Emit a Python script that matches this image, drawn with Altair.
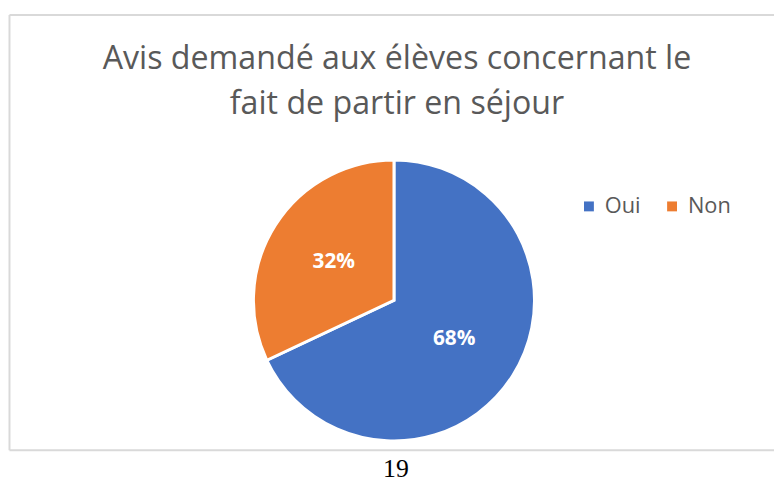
import altair as alt
import pandas as pd

categories = ["Oui", "Non"]
values = [68, 32]
labels = ["68%", "32%"]
colors = ["#4472C4", "#ED7D31"]
title_lines = ["Avis demandé aux élèves concernant le", "fait de partir en séjour"]
page_number = "19"

df = pd.DataFrame({"cat": categories, "val": values, "lab": labels, "ord": [0, 1]})
one = pd.DataFrame({"a": [0]})

W, H = 774, 475
cx, cy, R = 390, 293, 142
FONT = "Open Sans"

color = alt.Color(
    "cat:N",
    scale=alt.Scale(domain=categories, range=colors),
    legend=alt.Legend(
        orient="none", legendX=576, legendY=187, direction="horizontal",
        title=None, symbolType="square", symbolSize=100, symbolStrokeWidth=0,
        labelFont=FONT, labelFontSize=22, labelColor="#595959",
        columnPadding=20, labelOffset=5, padding=0,
    ),
)

pie = alt.Chart(df).mark_arc(
    outerRadius=R, stroke="white", strokeWidth=3, strokeJoin="miter"
).encode(
    theta=alt.Theta("val:Q", stack=True),
    color=color,
    order=alt.Order("ord:Q"),
    x=alt.value(cx), y=alt.value(cy),
)

text = alt.Chart(df).mark_text(
    radius=72, font=FONT, fontSize=21, fontWeight="bold", color="white"
).encode(
    theta=alt.Theta("val:Q", stack=True),
    order=alt.Order("ord:Q"),
    text="lab:N",
    x=alt.value(cx), y=alt.value(cy),
)

frame_col = "#d9d9d9"
top = alt.Chart(one).mark_rule(color=frame_col, strokeWidth=2).encode(
    x=alt.value(1.5), x2=alt.value(W), y=alt.value(4.5), y2=alt.value(4.5))
left = alt.Chart(one).mark_rule(color=frame_col, strokeWidth=2).encode(
    x=alt.value(1.5), x2=alt.value(1.5), y=alt.value(4.5), y2=alt.value(444.5))
bottom = alt.Chart(one).mark_rule(color=frame_col, strokeWidth=2).encode(
    x=alt.value(1.5), x2=alt.value(W), y=alt.value(444.5), y2=alt.value(444.5))

tdf = pd.DataFrame({"t": title_lines, "y": [59, 105]})
title = alt.Chart(tdf).mark_text(
    font=FONT, fontSize=32.5, color="#595959", baseline="alphabetic", align="center"
).encode(text="t:N", x=alt.value(393), y=alt.Y("y:Q", scale=None))

pn = alt.Chart(pd.DataFrame({"t": [page_number]})).mark_text(
    font="Liberation Serif", fontSize=26, color="black", baseline="alphabetic"
).encode(text="t:N", x=alt.value(392), y=alt.value(471))

chart = alt.layer(top, left, bottom, title, pie, text, pn).properties(
    width=W, height=H, padding=0, autosize=alt.AutoSizeParams(type="none")
).configure_view(stroke=None)

chart.save("out.html", embed_options={"renderer": "svg", "actions": False})
